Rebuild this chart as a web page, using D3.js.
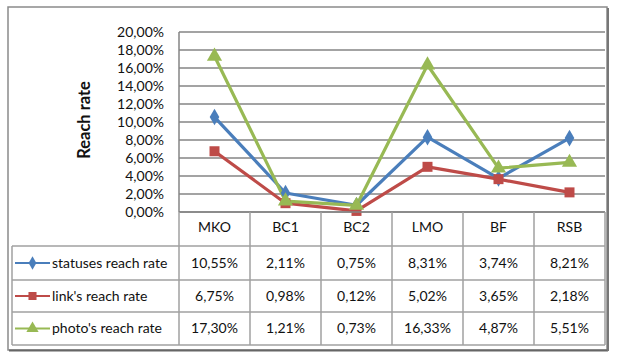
<!DOCTYPE html>
<html>
<head>
<meta charset="utf-8">
<script src="https://cdn.jsdelivr.net/npm/d3@7"></script>
<style>
  html, body { margin: 0; padding: 0; background: #fff; }
  svg { display: block; font-family: Lato, "Open Sans", sans-serif; }
</style>
</head>
<body>
<svg id="chart" width="618" height="357"></svg>
<script>
const categories = ["MKO", "BC1", "BC2", "LMO", "BF", "RSB"];
const statuses = [10.55, 2.11, 0.75, 8.31, 3.74, 8.21];
const links = [6.75, 0.98, 0.12, 5.02, 3.65, 2.18];
const photos = [17.30, 1.21, 0.73, 16.33, 4.87, 5.51];
const seriesNames = ["statuses reach rate", "link's reach rate", "photo's reach rate"];
const yTicks = [0, 2, 4, 6, 8, 10, 12, 14, 16, 18, 20];

const series = [
  { name: seriesNames[0], values: statuses, color: "#4a7ebb", symbol: d3.symbolDiamond, size: 80 },
  { name: seriesNames[1], values: links, color: "#be4b48", symbol: d3.symbolSquare, size: 100 },
  { name: seriesNames[2], values: photos, color: "#98b954", symbol: d3.symbolTriangle, size: 100 }
];

const locale = d3.formatLocale({ decimal: ",", thousands: " ", grouping: [3], currency: ["", ""] });
const pct = (v) => locale.format(".2f")(v) + "%";

const svg = d3.select("#chart");
const plotLeft = 179, plotRight = 605, plotTop = 32, plotBottom = 212;
const gridColor = "#858585";
const fontSize = 14;

// outer frame
svg.append("rect").attr("x", 8).attr("y", 7).attr("width", 599).attr("height", 343)
  .attr("fill", "none").attr("stroke", "#8a8a8a").attr("stroke-width", 1.5);
svg.append("line").attr("x1", 9).attr("x2", 608).attr("y1", 350.5).attr("y2", 350.5)
  .attr("stroke", "#666").attr("stroke-width", 2);
svg.append("line").attr("x1", 608).attr("x2", 608).attr("y1", 8).attr("y2", 351)
  .attr("stroke", "#777").attr("stroke-width", 2);

const x = d3.scaleBand().domain(categories).range([plotLeft, plotRight]);
const y = d3.scaleLinear().domain([0, 20]).range([plotBottom, plotTop]);

// gridlines
svg.append("g").selectAll("line").data(yTicks).join("line")
  .attr("x1", plotLeft).attr("x2", plotRight)
  .attr("y1", (d) => y(d)).attr("y2", (d) => y(d))
  .attr("stroke", gridColor).attr("stroke-width", 1.6);
svg.append("line").attr("x1", plotLeft).attr("x2", plotLeft)
  .attr("y1", plotTop).attr("y2", plotBottom)
  .attr("stroke", gridColor).attr("stroke-width", 1.5);

// y tick labels
svg.append("g").selectAll("text").data(yTicks).join("text")
  .attr("x", 164).attr("y", (d) => y(d)).attr("dy", "0.35em")
  .attr("text-anchor", "end").attr("font-size", fontSize).attr("fill", "#111")
  .text(pct);

svg.append("text")
  .attr("transform", `translate(84,${(plotTop + plotBottom) / 2 - 2}) rotate(-90)`)
  .attr("dy", "0.35em")
  .attr("text-anchor", "middle").attr("font-size", 16.5).attr("font-weight", "bold")
  .attr("fill", "#111").text("Reach rate");

// lines and markers
const line = d3.line().x((d, i) => x(categories[i]) + x.bandwidth() / 2).y((d) => y(d));
series.forEach((s) => {
  svg.append("path").datum(s.values).attr("d", line)
    .attr("fill", "none").attr("stroke", s.color).attr("stroke-width", 3.2)
    .attr("stroke-linejoin", "round");
});
series.forEach((s) => {
  svg.append("g").selectAll("path").data(s.values).join("path")
    .attr("d", d3.symbol().type(s.symbol).size(s.size))
    .attr("transform", (d, i) => `translate(${x(categories[i]) + x.bandwidth() / 2},${y(d)})`)
    .attr("fill", s.color);
});

// data table
const tableLeft = 12;
const rowEdges = [212, 246, 280, 312, 345];
const table = svg.append("g");
const tableColor = "#a0a0a0";

// horizontal lines
rowEdges.forEach((ry, i) => {
  table.append("line")
    .attr("x1", i === 0 ? plotLeft : tableLeft).attr("x2", plotRight)
    .attr("y1", ry).attr("y2", ry)
    .attr("stroke", i === 0 ? gridColor : tableColor).attr("stroke-width", 1.5);
});
// vertical lines
const colEdges = categories.map((c) => x(c)).concat([plotRight]);
colEdges.forEach((cx) => {
  table.append("line").attr("x1", cx).attr("x2", cx)
    .attr("y1", rowEdges[0]).attr("y2", rowEdges[4])
    .attr("stroke", tableColor).attr("stroke-width", 1.5);
});
table.append("line").attr("x1", tableLeft).attr("x2", tableLeft)
  .attr("y1", rowEdges[1]).attr("y2", rowEdges[4])
  .attr("stroke", tableColor).attr("stroke-width", 1.5);

// header labels
table.append("g").selectAll("text").data(categories).join("text")
  .attr("x", (d) => x(d) + x.bandwidth() / 2)
  .attr("y", (rowEdges[0] + rowEdges[1]) / 2 - 2).attr("dy", "0.35em")
  .attr("text-anchor", "middle").attr("font-size", fontSize).attr("fill", "#111")
  .text((d) => d);

series.forEach((s, r) => {
  const cy = (rowEdges[r + 1] + rowEdges[r + 2]) / 2;
  table.append("line").attr("x1", 15).attr("x2", 50).attr("y1", cy).attr("y2", cy)
    .attr("stroke", s.color).attr("stroke-width", 2.2);
  table.append("path")
    .attr("d", d3.symbol().type(s.symbol).size(s.size * 0.65))
    .attr("transform", `translate(32.5,${cy})`).attr("fill", s.color);
  table.append("text").attr("x", 52).attr("y", cy).attr("dy", "0.35em")
    .attr("font-size", fontSize).attr("fill", "#111").text(s.name);
  table.append("g").selectAll("text").data(s.values).join("text")
    .attr("x", (d, i) => x(categories[i]) + x.bandwidth() / 2)
    .attr("y", cy).attr("dy", "0.35em")
    .attr("text-anchor", "middle").attr("font-size", fontSize).attr("fill", "#111")
    .text(pct);
});
</script>
</body>
</html>
